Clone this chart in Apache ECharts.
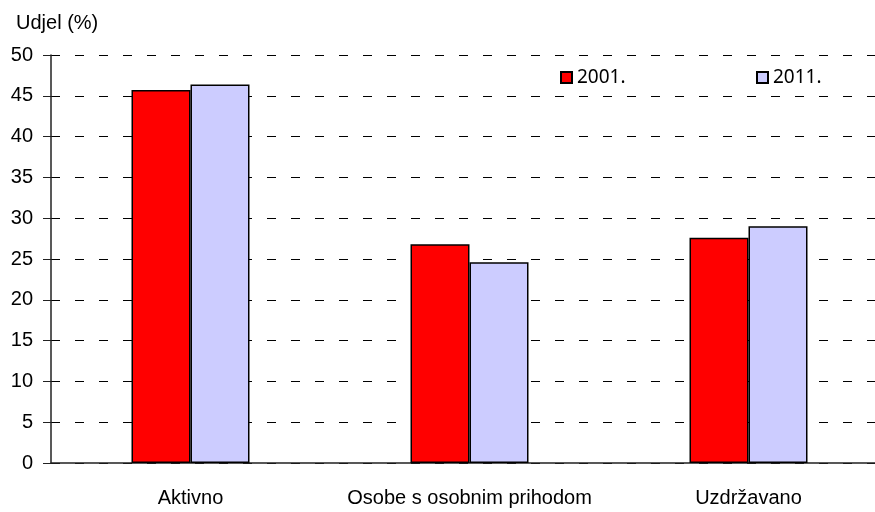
<!DOCTYPE html>
<html>
<head>
<meta charset="utf-8">
<script src="https://cdn.jsdelivr.net/npm/echarts@6/dist/echarts.min.js"></script>
<style>
  html, body { margin: 0; padding: 0; background: #fff; overflow: hidden; }
  #chart { width: 888px; height: 512px; }
</style>
</head>
<body>
<div id="chart"></div>
<script>
const categories = ['Aktivno', 'Osobe s osobnim prihodom', 'Uzdržavano'];
const values2001 = [45.7, 26.8, 27.6];
const values2011 = [46.4, 24.6, 29.0];
const seriesNames = ['2001.', '2011.'];

const narrow = "'Liberation Sans Narrow', 'Liberation Sans', Arial, sans-serif";

let myChart = echarts.init(document.getElementById('chart'));

let option = {
  animation: false,
  title: {
    text: 'Udjel (%)',
    left: 11,
    top: 8,
    textStyle: { fontFamily: narrow, fontSize: 20, fontWeight: 'normal', color: '#000' }
  },
  legend: [
    {
      data: [seriesNames[0]],
      left: 555, top: 63,
      icon: 'rect', itemWidth: 11, itemHeight: 11, itemGap: 6,
      textStyle: { fontFamily: 'Noto Sans', fontSize: 19, color: '#000' }
    },
    {
      data: [seriesNames[1]],
      left: 751, top: 63,
      icon: 'rect', itemWidth: 11, itemHeight: 11, itemGap: 6,
      textStyle: { fontFamily: 'Noto Sans', fontSize: 19, color: '#000' }
    }
  ],
  grid: {
    left: 51,
    right: 0,
    top: 55,
    bottom: 49
  },
  xAxis: {
    type: 'category',
    data: categories,
    axisLine: { lineStyle: { color: '#222', width: 1.5 } },
    axisTick: { length: 8, lineStyle: { color: '#222', width: 1.5 } },
    axisLabel: { interval: 0, margin: 25, fontFamily: narrow, fontSize: 20, color: '#000' }
  },
  yAxis: {
    type: 'value',
    min: 0,
    max: 50,
    interval: 5,
    axisLine: { show: true, lineStyle: { color: '#222', width: 1.5 } },
    axisTick: { show: true, length: 8, lineStyle: { color: '#222' } },
    axisLabel: { margin: 18, fontFamily: narrow, fontSize: 20, color: '#000' },
    splitLine: { lineStyle: { color: '#000', type: [9, 15] } }
  },
  series: [
    {
      name: seriesNames[0],
      type: 'bar',
      data: values2001,
      barWidth: 59,
      barGap: '0%',
      itemStyle: { color: '#FF0000', borderColor: '#000', borderWidth: 1.5 }
    },
    {
      name: seriesNames[1],
      type: 'bar',
      data: values2011,
      barWidth: 59,
      barGap: '0%',
      itemStyle: { color: '#CCCCFF', borderColor: '#000', borderWidth: 1.5 }
    }
  ]
};

myChart.setOption(option);
</script>
</body>
</html>
